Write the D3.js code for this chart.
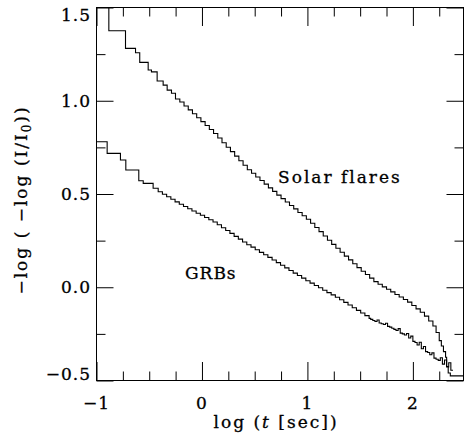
<!DOCTYPE html>
<html><head><meta charset="utf-8"/>
<script src="https://d3js.org/d3.v7.min.js"></script>
<style>
  body { margin: 0; background: #fff; }
  text { font-family: 'DejaVu Serif', serif; fill: #000; stroke: #000; stroke-width: 0.3px; }
</style>
</head>
<body>
<svg id="chart" width="464" height="441"></svg>
<script>
// Solar flares staircase: log t and -log(-log(I/I0)) at each step
const solarLogT = [-1, -0.883, -0.725, -0.630, -0.590, -0.510, -0.479, -0.425, -0.368, -0.330, -0.289, -0.251, -0.210,
  -0.17, -0.13, -0.09, -0.05, -0.01, 0.03, 0.07, 0.11, 0.15, 0.19,
  0.23, 0.27, 0.31, 0.35, 0.39, 0.43, 0.47, 0.51, 0.55, 0.59,
  0.63, 0.67, 0.71, 0.75, 0.79, 0.83, 0.87, 0.91, 0.95, 0.99,
  1.03, 1.07, 1.11, 1.15, 1.19, 1.23, 1.27, 1.31, 1.35, 1.39,
  1.43, 1.47, 1.51, 1.55, 1.59, 1.63, 1.67, 1.71, 1.75, 1.79,
  1.83, 1.87, 1.91, 1.95, 1.99, 2.03, 2.07, 2.11, 2.15, 2.19,
  2.22, 2.25, 2.27, 2.29, 2.31, 2.32, 2.335, 2.355, 2.48];
const solarValue = [1.60, 1.375, 1.281, 1.257, 1.206, 1.165, 1.155, 1.106, 1.084, 1.057, 1.040, 1.009, 0.993,
  0.972, 0.951, 0.930, 0.909, 0.888, 0.867, 0.846, 0.824, 0.800, 0.775,
  0.751, 0.727, 0.703, 0.678, 0.654, 0.630, 0.611, 0.591, 0.572, 0.553,
  0.533, 0.514, 0.494, 0.475, 0.457, 0.438, 0.420, 0.401, 0.383, 0.365,
  0.343, 0.320, 0.298, 0.275, 0.252, 0.230, 0.209, 0.188, 0.167, 0.147,
  0.126, 0.105, 0.086, 0.068, 0.049, 0.030, 0.016, 0.002, -0.011, -0.025,
  -0.039, -0.052, -0.066, -0.080, -0.098, -0.116, -0.134, -0.155, -0.181, -0.208,
  -0.243, -0.286, -0.315, -0.345, -0.375, -0.425, -0.460, -0.475, -0.475];

// GRB staircase
const grbLogT = [-1, -0.899, -0.773, -0.722, -0.599, -0.557, -0.463, -0.415,
  -0.375, -0.335, -0.295, -0.255, -0.215, -0.175, -0.135, -0.095, -0.055, -0.015,
  0.025, 0.065, 0.105, 0.145, 0.185, 0.225, 0.265, 0.305, 0.345, 0.385,
  0.425, 0.465, 0.505, 0.545, 0.585, 0.625, 0.665, 0.705, 0.745, 0.785,
  0.825, 0.865, 0.905, 0.945, 0.985, 1.025, 1.065, 1.105, 1.145, 1.185,
  1.225, 1.265, 1.305, 1.345, 1.385, 1.425, 1.465, 1.505, 1.545, 1.585,
  1.60, 1.62, 1.64, 1.66, 1.68, 1.70, 1.72, 1.74, 1.76, 1.78,
  1.80, 1.82, 1.84, 1.86, 1.88, 1.90, 1.92, 1.94, 1.96, 1.98,
  2.00, 2.02, 2.04, 2.06, 2.08, 2.10, 2.12, 2.14, 2.16, 2.18,
  2.20, 2.22, 2.24, 2.26, 2.28, 2.30, 2.32, 2.34, 2.36, 2.38];
const grbValue = [0.780, 0.718, 0.682, 0.629, 0.571, 0.557, 0.531, 0.512,
  0.499, 0.485, 0.472, 0.458, 0.445, 0.433, 0.421, 0.409, 0.397, 0.386,
  0.374, 0.362, 0.350, 0.335, 0.319, 0.304, 0.289, 0.273, 0.258, 0.243,
  0.228, 0.215, 0.201, 0.187, 0.174, 0.160, 0.146, 0.132, 0.118, 0.104,
  0.090, 0.076, 0.063, 0.049, 0.035, 0.022, 0.009, -0.003, -0.016, -0.029,
  -0.041, -0.054, -0.067, -0.081, -0.095, -0.110, -0.124, -0.138, -0.152, -0.167,
  -0.172, -0.178, -0.184, -0.176, -0.192, -0.196, -0.200, -0.193, -0.210, -0.214,
  -0.220, -0.226, -0.232, -0.222, -0.246, -0.250, -0.256, -0.248, -0.272, -0.262,
  -0.290, -0.296, -0.310, -0.295, -0.330, -0.318, -0.345, -0.350, -0.362, -0.352,
  -0.380, -0.386, -0.392, -0.378, -0.412, -0.390, -0.428, -0.405, -0.445, -0.445];

const xMajorTicks = [-1, 0, 1, 2];
const xMinorTicks = [-0.75, -0.5, -0.25, 0.25, 0.5, 0.75, 1.25, 1.5, 1.75, 2.25];
const xTickLabels = ["\u22121", "0", "1", "2"];
const yMajorTicks = [-0.5, 0, 0.5, 1.0, 1.5];
const yMinorTicks = [-0.25, 0.25, 0.75, 1.25];
const yTickLabels = ["\u22120.5", "0.0", "0.5", "1.0", "1.5"];

const svg = d3.select("#chart");
const plotL = 96.5, plotR = 463.5, plotT = 7.5, plotB = 380.5;

const x = d3.scaleLinear().domain([-1, 2.48]).range([plotL, plotR]);
const y = d3.scaleLinear().domain([-0.5, 1.5]).range([plotB, plotT]);

svg.append("defs").append("clipPath").attr("id", "plot")
  .append("rect").attr("x", plotL).attr("y", plotT)
  .attr("width", plotR - plotL).attr("height", plotB - plotT);

// ticks pointing into the frame on all four sides
function ticks(axis, tx, ty, values, size) {
  const g = svg.append("g").attr("transform", `translate(${tx},${ty})`)
    .call(axis.tickValues(values).tickSizeInner(-size).tickSizeOuter(0).tickFormat(""));
  g.select(".domain").remove();
  g.selectAll("line").attr("stroke", "#000").attr("stroke-width", 1);
  return g;
}
ticks(d3.axisBottom(x), 0, plotB, xMajorTicks, 18.5);
ticks(d3.axisBottom(x), 0, plotB, xMinorTicks, 9);
ticks(d3.axisTop(x), 0, plotT, xMajorTicks, 18.5);
ticks(d3.axisTop(x), 0, plotT, xMinorTicks, 9);
ticks(d3.axisLeft(y), plotL, 0, yMajorTicks, 17);
ticks(d3.axisLeft(y), plotL, 0, yMinorTicks, 9);
ticks(d3.axisRight(y), plotR, 0, yMajorTicks, 17);
ticks(d3.axisRight(y), plotR, 0, yMinorTicks, 9);

svg.append("rect").attr("x", plotL).attr("y", plotT)
  .attr("width", plotR - plotL).attr("height", plotB - plotT)
  .attr("fill", "none").attr("stroke", "#000").attr("stroke-width", 1);

// tick labels
svg.append("g").selectAll("text").data(xMajorTicks).join("text")
  .attr("x", d => x(d)).attr("y", 408.5)
  .attr("text-anchor", "middle").attr("font-size", 17).attr("letter-spacing", 1)
  .text((d, i) => xTickLabels[i]);

svg.append("g").selectAll("text").data(yMajorTicks).join("text")
  .attr("x", 91).attr("y", d => y(d))
  .attr("dy", d => d === 1.5 ? "0.82em" : d === -0.5 ? "-0.03em" : "0.35em")
  .attr("text-anchor", "end").attr("font-size", 17).attr("letter-spacing", 1)
  .text((d, i) => yTickLabels[i]);

// curves
const line = d3.line().x(d => x(d[0])).y(d => y(d[1])).curve(d3.curveStepAfter);
const plot = svg.append("g").attr("clip-path", "url(#plot)");
[[solarLogT, solarValue], [grbLogT, grbValue]].forEach(([t, v]) => {
  plot.append("path").datum(d3.zip(t, v))
    .attr("d", line).attr("fill", "none")
    .attr("stroke", "#000").attr("stroke-width", 1.1);
});

// series labels
svg.append("text").attr("x", 278).attr("y", 183)
  .attr("font-size", 17).attr("letter-spacing", 2).text("Solar flares");
svg.append("text").attr("x", 185).attr("y", 279)
  .attr("font-size", 17).attr("letter-spacing", 1).text("GRBs");

// axis titles
const xt = svg.append("text").attr("x", 276).attr("y", 428)
  .attr("text-anchor", "middle").attr("font-size", 17).attr("letter-spacing", 2);
xt.append("tspan").text("log (");
xt.append("tspan").attr("font-style", "italic").text("t");
xt.append("tspan").text(" [sec])");

const yt = svg.append("text").attr("transform", "translate(27,200) rotate(-90)")
  .attr("text-anchor", "middle").attr("font-size", 17).attr("letter-spacing", 2);
yt.append("tspan").text("\u2212log ( \u2212log (I/I");
yt.append("tspan").attr("font-size", 12).attr("dy", 4).text("0");
yt.append("tspan").attr("dy", -4).text("))");
</script>
</body></html>
